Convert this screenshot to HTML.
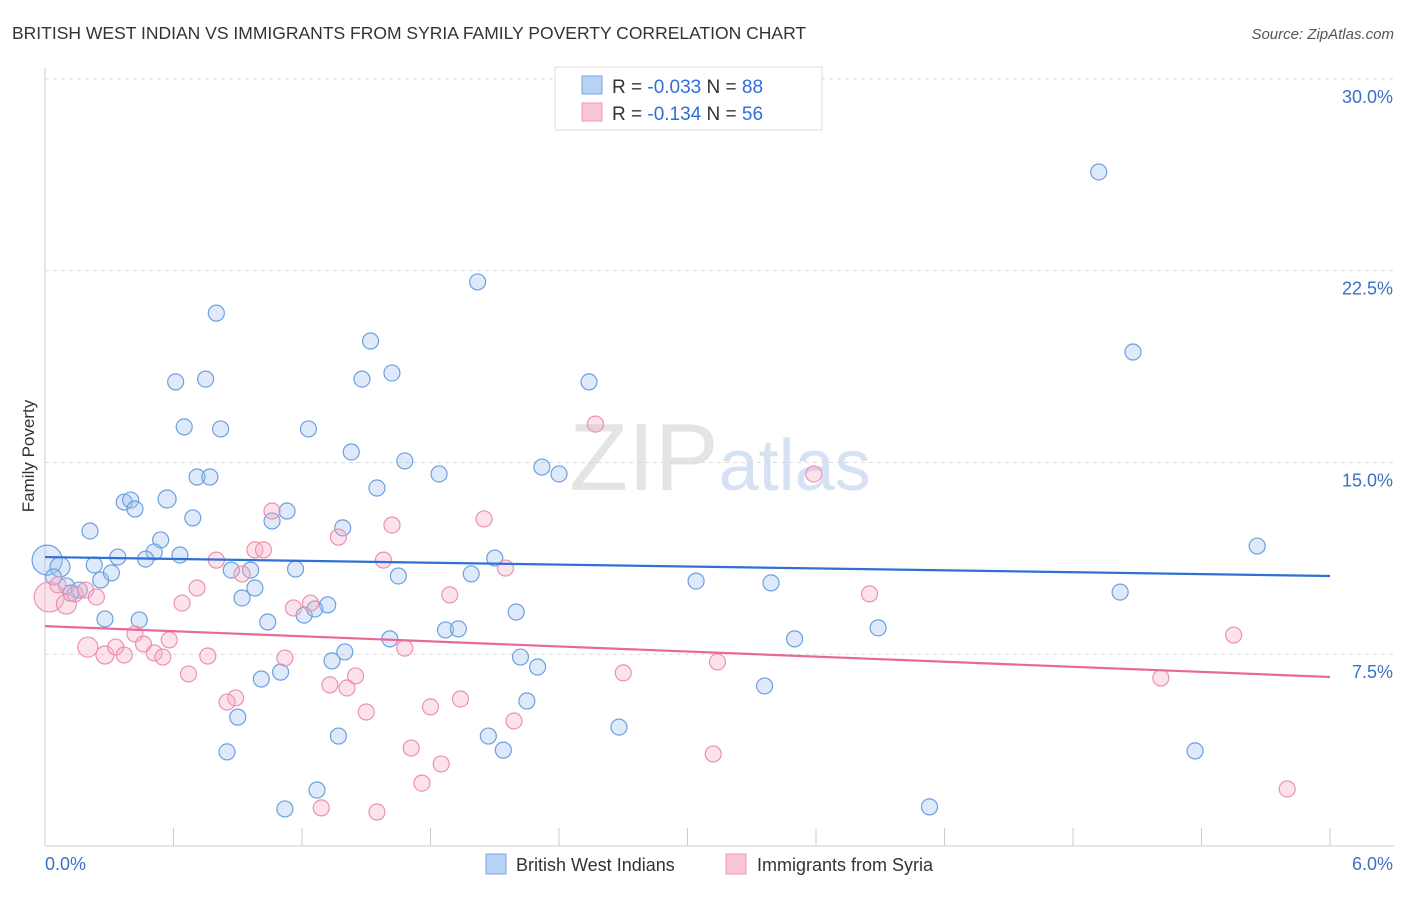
<!DOCTYPE html>
<html><head><meta charset="utf-8"><style>
body{margin:0;background:#fff;font-family:"Liberation Sans",sans-serif}
svg text{font-family:"Liberation Sans",sans-serif}
</style></head><body>
<svg width="1406" height="892" xmlns="http://www.w3.org/2000/svg" id="chart">
<text x="12" y="39" font-size="17.5" fill="#333">BRITISH WEST INDIAN VS IMMIGRANTS FROM SYRIA FAMILY POVERTY CORRELATION CHART</text>
<text x="1394" y="39" font-size="15" fill="#555" text-anchor="end" font-style="italic">Source: ZipAtlas.com</text>
<text transform="translate(34,456) rotate(-90)" font-size="17" fill="#333" text-anchor="middle">Family Poverty</text>
<text x="720" y="490" font-size="96" text-anchor="middle" fill="#e4e4e4" font-family="Liberation Serif">ZIP<tspan fill="#d4e2f4" font-family="Liberation Sans" font-size="72">atlas</tspan></text>
<g id="grid"></g><g id="pts"></g><g id="lines"></g>
<g>
<rect x="555" y="67" width="267" height="63" fill="#fff" stroke="#ddd"/>
<rect x="582" y="76" width="20" height="18" fill="#b8d2f6" stroke="#7aa6e4"/>
<rect x="582" y="103" width="20" height="18" fill="#f9c6d6" stroke="#ee9ab8"/>
<text x="612" y="93" font-size="19" fill="#333">R = <tspan fill="#2f6fd6">-0.033</tspan>   N = <tspan fill="#2f6fd6">88</tspan></text>
<text x="612" y="120" font-size="19" fill="#333">R =  <tspan fill="#2f6fd6">-0.134</tspan>   N = <tspan fill="#2f6fd6">56</tspan></text>
</g>
<g>
<rect x="486" y="854" width="20" height="20" fill="#b8d2f6" stroke="#7aa6e4"/>
<text x="516" y="871" font-size="18" fill="#333">British West Indians</text>
<rect x="726" y="854" width="20" height="20" fill="#f9c6d6" stroke="#ee9ab8"/>
<text x="757" y="871" font-size="18" fill="#333">Immigrants from Syria</text>
</g>
</svg>
<script>
const yTicks=[7.5,15,22.5,30];
const yTickLabels=["7.5%","15.0%","22.5%","30.0%"];
const xTicks=[0,0.6,1.2,1.8,2.4,3.0,3.6,4.2,4.8,5.4,6.0];
const blueX=[4.92,2.02,5.08,0.80,1.52,0.61,0.75,1.48,1.62,2.54,0.65,0.82,1.23,1.43,1.68,1.84,2.32,2.40,0.71,0.77,1.55,0.37,0.40,0.42,0.57,0.69,1.13,1.06,1.39,0.21,0.54,0.51,0.47,0.63,0.34,0.23,0.01,0.07,0.04,0.10,0.16,0.12,0.26,0.31,0.87,0.96,1.17,1.65,1.99,2.10,5.66,3.04,3.39,5.02,0.92,0.98,1.04,1.21,1.26,1.32,2.20,0.28,0.44,1.87,1.93,1.61,3.50,3.89,1.40,1.34,2.22,2.30,1.10,1.01,3.36,2.25,0.90,2.68,1.37,2.07,2.14,0.85,5.37,1.27,1.12,4.13];
const blueY=[26.36,22.06,19.32,20.84,19.75,18.15,18.26,18.26,18.50,18.15,16.39,16.31,16.31,15.41,15.06,14.55,14.82,14.55,14.43,14.43,14.00,13.45,13.53,13.18,13.57,12.83,13.10,12.71,12.44,12.32,11.97,11.50,11.22,11.38,11.30,10.99,11.18,10.91,10.52,10.17,10.01,9.89,10.40,10.68,10.79,10.79,10.83,10.56,10.64,11.26,11.73,10.36,10.29,9.93,9.70,10.09,8.76,9.03,9.27,9.43,9.15,8.88,8.84,8.45,8.49,8.10,8.10,8.53,7.59,7.24,7.39,7.00,6.80,6.53,6.26,5.67,5.04,4.65,4.30,4.30,3.75,3.68,3.72,2.19,1.45,1.53];
const blueR=[8,8,8,8,8,8,8,8,8,8,8,8,8,8,8,8,8,8,8,8,8,8,8,8,9,8,8,8,8,8,8,8,8,8,8,8,15,10,8,8,8,8,8,8,8,8,8,8,8,8,8,8,8,8,8,8,8,8,8,8,8,8,8,8,8,8,8,8,8,8,8,8,8,8,8,8,8,8,8,8,8,8,8,8,8,8];
const pinkX=[2.57,3.59,2.05,1.62,1.06,1.37,0.98,1.02,0.80,1.58,2.15,0.92,0.71,0.64,0.02,0.10,0.14,0.19,0.24,0.06,1.89,3.85,1.16,1.24,0.42,0.46,0.58,0.20,0.28,0.33,0.37,0.51,0.55,0.76,1.12,1.68,5.55,3.14,0.67,2.70,1.33,1.41,1.45,0.89,0.85,1.94,1.80,1.50,2.19,1.71,3.12,1.85,1.76,5.80,1.29,1.55,5.21];
const pinkY=[16.50,14.55,12.79,12.55,13.10,12.08,11.58,11.58,11.18,11.18,10.87,10.64,10.09,9.50,9.74,9.46,9.86,10.01,9.74,10.21,9.82,9.86,9.31,9.50,8.29,7.90,8.06,7.78,7.47,7.78,7.47,7.55,7.39,7.43,7.35,7.74,8.25,7.20,6.73,6.77,6.30,6.18,6.65,5.79,5.63,5.75,5.44,5.24,4.89,3.83,3.60,3.21,2.46,2.23,1.49,1.33,6.57];
const pinkR=[8,8,8,8,8,8,8,8,8,8,8,8,8,8,15,10,8,8,8,8,8,8,8,8,8,8,8,10,9,8,8,8,8,8,8,8,8,8,8,8,8,8,8,8,8,8,8,8,8,8,8,8,8,8,8,8,8];
const blueTrend=[11.30,10.56];
const pinkTrend=[8.60,6.61];
const NS='http://www.w3.org/2000/svg';
const sx=v=>45+v*214.17, sy=v=>846-v*25.57;
function mk(t,a,p){const e=document.createElementNS(NS,t);for(const k in a)e.setAttribute(k,a[k]);p.appendChild(e);return e;}
const grid=document.getElementById('grid');
yTicks.forEach((t,i)=>{
 const l=mk('line',{x1:45,x2:1394,y1:sy(t),y2:sy(t),stroke:'#dcdcdc','stroke-dasharray':'4,4'},grid);
 
 
 const tx=mk('text',{x:1393,y:sy(t)+24,'font-size':18,fill:'#3a70c8','text-anchor':'end'},grid);
 tx.textContent=yTickLabels[i];
 
 
});
const ax=mk('line',{x1:45,x2:45,y1:68,y2:846,stroke:'#ccc'},grid);


const bx=mk('line',{x1:45,x2:1394,y1:846,y2:846,stroke:'#ccc'},grid);


xTicks.forEach(t=>{const l=mk('line',{x1:sx(t),x2:sx(t),y1:828,y2:846,stroke:'#ccc'},grid);
 
 });
[['0.0%',45,'start'],['6.0%',1393,'end']].forEach(a=>{const t=mk('text',{x:a[1],y:870,'font-size':18,fill:'#3a70c8','text-anchor':a[2]},grid);t.textContent=a[0];
 
 });
const pts=document.getElementById('pts');
blueX.forEach((x,i)=>{const c=mk('circle',{cx:sx(x),cy:sy(blueY[i]),r:blueR[i],fill:'rgba(160,195,240,0.35)',stroke:'#6d9fe0','stroke-width':1.2},pts);
 
 });
pinkX.forEach((x,i)=>{const c=mk('circle',{cx:sx(x),cy:sy(pinkY[i]),r:pinkR[i],fill:'rgba(246,175,198,0.35)',stroke:'#ee90b0','stroke-width':1.2},pts);
 
 });
const lines=document.getElementById('lines');
const b=mk('line',{x1:sx(0),x2:sx(6),y1:sy(blueTrend[0]),y2:sy(blueTrend[1]),stroke:'#2f6fd6','stroke-width':2.2},lines);


const p=mk('line',{x1:sx(0),x2:sx(6),y1:sy(pinkTrend[0]),y2:sy(pinkTrend[1]),stroke:'#e8689a','stroke-width':2.2},lines);


</script>
</body></html>
